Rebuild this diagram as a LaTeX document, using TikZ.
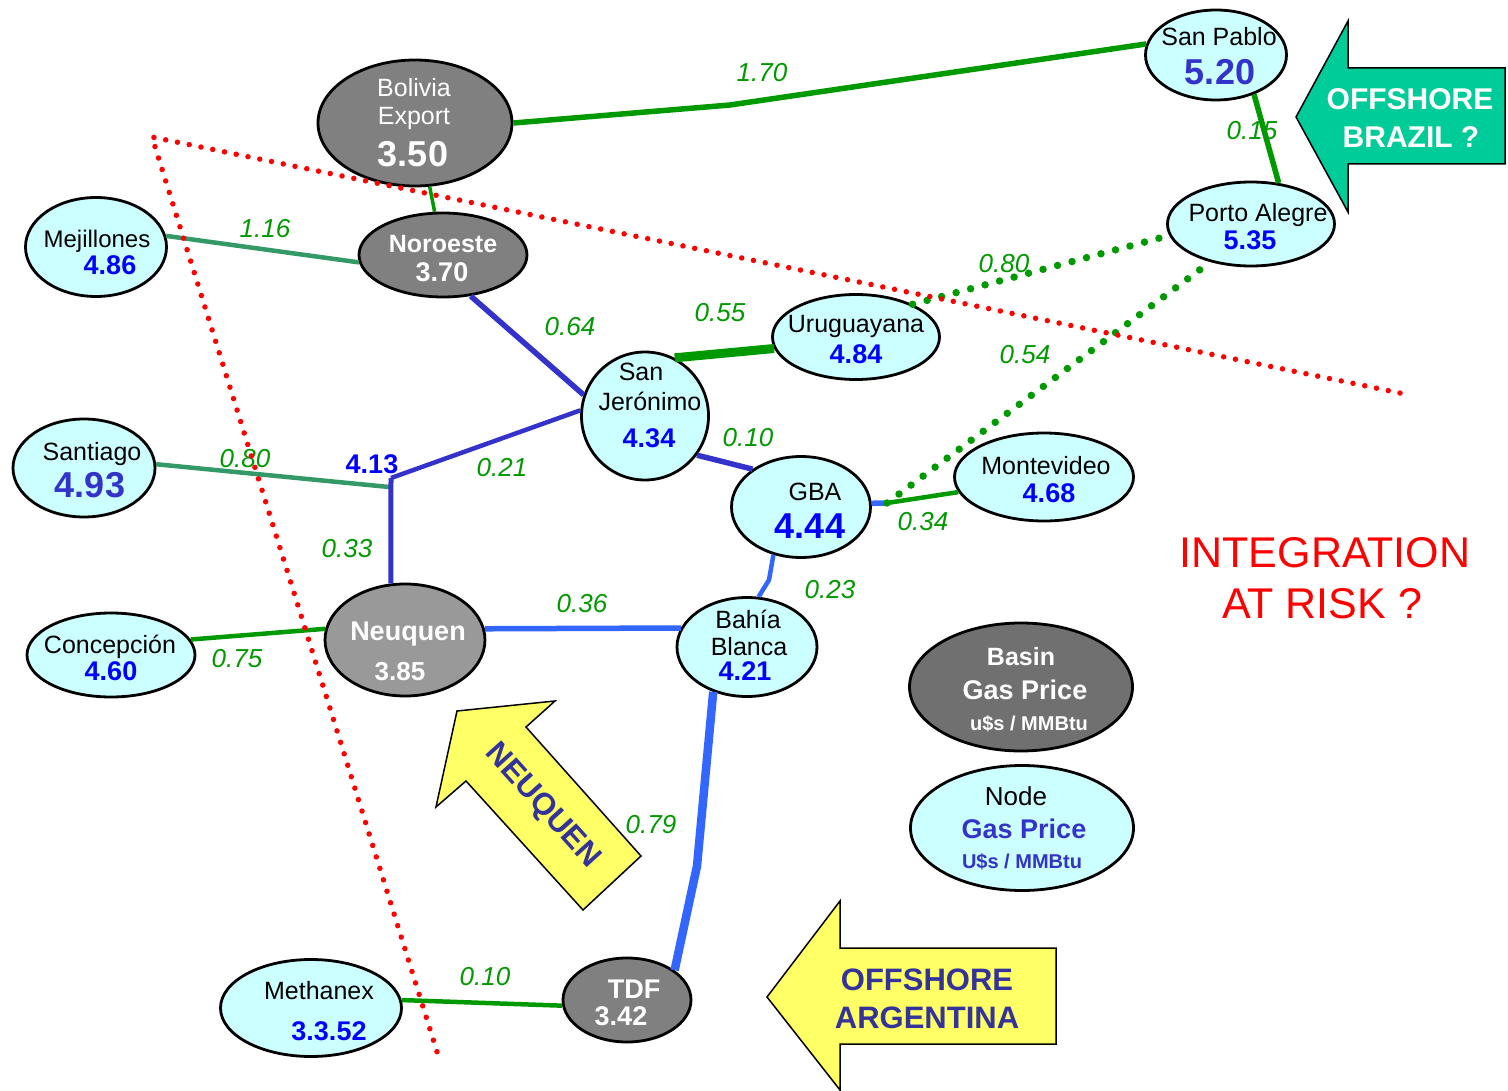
\documentclass[tikz,border=0pt]{standalone}
\usepackage{fontspec}
\setmainfont{Liberation Sans}
\usetikzlibrary{shapes.geometric}

\definecolor{nodecyan}{HTML}{CCFFFF}
\definecolor{basingray}{HTML}{808080}
\definecolor{neugray}{HTML}{999999}
\definecolor{leggray}{HTML}{707070}
\definecolor{pipegreen}{HTML}{009900}
\definecolor{pipeteal}{HTML}{339966}
\definecolor{pipeblue}{HTML}{3333CC}
\definecolor{pipelight}{HTML}{3366FF}
\definecolor{priceblue}{HTML}{0000FF}
\definecolor{navytext}{HTML}{333399}
\definecolor{brazilgreen}{HTML}{00CC99}
\definecolor{arrowyellow}{HTML}{FFFF66}

\begin{document}
\begin{tikzpicture}[x={(1pt,0pt)}, y={(0pt,-1pt)},
    cnode/.style={ellipse, draw=black, line width=2.8pt, fill=nodecyan, inner sep=0pt},
    bnode/.style={cnode, fill=basingray},
    placename/.style={anchor=base, inner sep=0pt, font=\fontsize{25}{30}\selectfont},
    price/.style={anchor=base, inner sep=0pt, text=priceblue, font=\fontsize{27}{30}\selectfont\bfseries},
    bigprice/.style={anchor=base, inner sep=0pt, text=pipeblue, font=\fontsize{36}{40}\selectfont\bfseries},
    basintext/.style={anchor=base, inner sep=0pt, text=white, font=\fontsize{26}{30}\selectfont\bfseries},
    flowlbl/.style={anchor=base, inner sep=0pt, text=pipegreen, font=\fontsize{26}{30}\selectfont\itshape},
    arrowtext/.style={anchor=base, inner sep=0pt, text=navytext, font=\fontsize{31}{34}\selectfont\bfseries},
    gline/.style={draw=pipegreen, line width=4.5pt},
    tline/.style={draw=pipeteal, line width=4.5pt},
    bline/.style={draw=pipeblue, line width=5pt},
    lbline/.style={draw=pipelight, line width=5.5pt},
    reddots/.style={draw=red, line width=5.5pt, line cap=round, dash pattern=on 0pt off 12pt},
    greendots/.style={draw=pipegreen, line width=7.5pt, line cap=round, dash pattern=on 0pt off 15pt}]
    \useasboundingbox (0,0) rectangle (1508,1091);

    % Basins (grey) and nodes (cyan)
    \node[bnode, minimum width=194, minimum height=126] (bol) at (415,123) {};
    \node[bnode, minimum width=168, minimum height=84] (nor) at (443,255) {};
    \node[bnode, fill=neugray, minimum width=160, minimum height=112] (neu) at (405,640) {};
    \node[bnode, minimum width=128, minimum height=84] (tdf) at (627,1000) {};
    \node[cnode, minimum width=141, minimum height=90] (sp) at (1216,55) {};
    \node[cnode, minimum width=167, minimum height=84] (pa) at (1251,224) {};
    \node[cnode, minimum width=141, minimum height=99] (mej) at (96,247) {};
    \node[cnode, minimum width=167, minimum height=85] (uru) at (856,337) {};
    \node[cnode, minimum width=127, minimum height=128] (sj) at (645,416) {};
    \node[cnode, minimum width=142, minimum height=98] (san) at (84,468) {};
    \node[cnode, minimum width=139, minimum height=101] (gba) at (801,507) {};
    \node[cnode, minimum width=179, minimum height=88] (mon) at (1044,477) {};
    \node[cnode, minimum width=168, minimum height=84] (con) at (111,655) {};
    \node[cnode, minimum width=140, minimum height=99] (bb) at (747,647) {};
    \node[cnode, minimum width=181, minimum height=97] (met) at (311,1008) {};

    % Legend
    \node[bnode, fill=leggray, minimum width=223, minimum height=128] (legb) at (1021,687) {};
    \node[cnode, minimum width=223, minimum height=125] (legn) at (1022,828) {};

    % Node texts
    \node[placename, text=white] (bol-a) at (414,97) {Bolivia};
    \node[placename, text=white] (bol-b) at (414,125) {Export};
    \node[bigprice, text=white] (bol-p) at (413,167) {3.50};
    \node[basintext, font=\fontsize{25}{30}\selectfont\bfseries] (nor-a) at (443,253) {Noroeste};
    \node[basintext, font=\fontsize{27}{30}\selectfont\bfseries] (nor-p) at (442,282) {3.70};
    \node[basintext, font=\fontsize{27}{30}\selectfont\bfseries] (neu-a) at (408,640) {Neuquen};
    \node[basintext] (neu-p) at (400,680) {3.85};
    \node[basintext, font=\fontsize{27}{30}\selectfont\bfseries] (tdf-a) at (634,998) {TDF};
    \node[basintext, font=\fontsize{27}{30}\selectfont\bfseries] (tdf-p) at (621,1025) {3.42};
    \node[placename] (sp-a) at (1219,46) {San Pablo};
    \node[bigprice] (sp-p) at (1220,85) {5.20};
    \node[placename] (pa-a) at (1258,222) {Porto Alegre};
    \node[price] (pa-p) at (1250,250) {5.35};
    \node[placename, font=\fontsize{24}{30}\selectfont] (mej-a) at (97,248) {Mejillones};
    \node[price] (mej-p) at (110,275) {4.86};
    \node[placename] (uru-a) at (856,333) {Uruguayana};
    \node[price] (uru-p) at (856,363) {4.84};
    \node[placename] (sj-a) at (641,381) {San};
    \node[placename] (sj-b) at (650,410) {Jerónimo};
    \node[price] (sj-p) at (649,447) {4.34};
    \node[placename] (san-a) at (92,460) {Santiago};
    \node[bigprice] (san-p) at (90,497) {4.93};
    \node[placename] (gba-a) at (815,500) {GBA};
    \node[bigprice, text=priceblue] (gba-p) at (810,538) {4.44};
    \node[placename] (mon-a) at (1046,474) {Montevideo};
    \node[price] (mon-p) at (1049,502) {4.68};
    \node[placename] (con-a) at (110,653) {Concepción};
    \node[price] (con-p) at (111,680) {4.60};
    \node[placename] (bb-a) at (748,628) {Bahía};
    \node[placename] (bb-b) at (749,655) {Blanca};
    \node[price] (bb-p) at (745,680) {4.21};
    \node[placename] (met-a) at (319,999) {Methanex};
    \node[price] (met-p) at (329,1040) {3.3.52};
    \node[price] (jn-p) at (372,473) {4.13};

    % Legend texts
    \node[basintext, font=\fontsize{25}{30}\selectfont\bfseries] (legb-a) at (1021,665) {Basin};
    \node[basintext, font=\fontsize{27}{30}\selectfont\bfseries] (legb-b) at (1025,699) {Gas Price};
    \node[basintext, font=\fontsize{20}{24}\selectfont\bfseries] (legb-c) at (1029,730) {u\$s / MMBtu};
    \node[placename, font=\fontsize{26}{30}\selectfont] (legn-a) at (1016,805) {Node};
    \node[basintext, text=pipeblue, font=\fontsize{27}{30}\selectfont\bfseries] (legn-b) at (1024,838) {Gas Price};
    \node[basintext, text=pipeblue, font=\fontsize{20}{24}\selectfont\bfseries] (legn-c) at (1022,868) {U\$s / MMBtu};

    % Flow labels
    \node[flowlbl] (f-bsp) at (762,82) {1.70};
    \node[flowlbl] (f-sppa) at (1252,140) {0.15};
    \node[flowlbl] (f-mej) at (265,238) {1.16};
    \node[flowlbl] (f-nor) at (570,336) {0.64};
    \node[flowlbl] (f-uru) at (720,322) {0.55};
    \node[flowlbl] (f-urupa) at (1004,273) {0.80};
    \node[flowlbl] (f-gbapa) at (1025,363) {0.54};
    \node[flowlbl] (f-san) at (245,467) {0.80};
    \node[flowlbl] (f-sjjn) at (502,476) {0.21};
    \node[flowlbl] (f-jn) at (347,557) {0.33};
    \node[flowlbl] (f-sjgba) at (748,446) {0.10};
    \node[flowlbl] (f-mon) at (923,530) {0.34};
    \node[flowlbl] (f-gbabb) at (830,598) {0.23};
    \node[flowlbl] (f-neubb) at (582,612) {0.36};
    \node[flowlbl] (f-con) at (237,667) {0.75};
    \node[flowlbl] (f-tdf) at (651,833) {0.79};
    \node[flowlbl] (f-met) at (485,985) {0.10};

    % Bends and junctions
    \coordinate (b1) at (730,105);
    \coordinate (jn) at (391,478);
    \coordinate (jg) at (389,487);
    \coordinate (gm) at (887,503);
    \coordinate (g1) at (769,580);
    \coordinate (t1) at (697,866);

    % Pipelines
    \draw[gline, line width=5.5pt] (bol.east) -- (b1) -- (sp.171);
    \draw[gline, line width=3.5pt] (bol.-77) -- (nor.101);
    \draw[gline, line width=5.5pt] (sp.-46) -- (pa.56);
    \draw[tline] (mej.9) -- (nor.185);
    \draw[bline, line width=5.5pt] (nor.-56) -- (sj.161);
    \draw[gline, line width=9pt] (sj.63) -- (uru.188);
    \draw[bline, line width=4.5pt] (sj.175) -- (jn);
    \draw[tline] (san.3) -- (jg);
    \draw[bline] (jn) -- (neu.104);
    \draw[bline, line width=5.5pt] (sj.-37) -- (gba.142);
    \draw[lbline] (gba.3) -- (gm);
    \draw[gline] (gm) -- (mon.190);
    \draw[lbline, line width=4.5pt] (gba.-120) -- (g1) -- (bb.77);
    \draw[lbline] (neu.8) -- (bb.164);
    \draw[gline] (con.11) -- (neu.172);
    \draw[lbline, line width=8.5pt] (bb.-127) -- (t1) -- (tdf.32);
    \draw[gline] (met.5) -- (tdf.185);

    % Projects (dotted)
    \draw[greendots] (uru.30) -- (pa.188);
    \draw[greendots] (gm) -- (pa.223);

    % Integration limit
    \coordinate (rd0) at (152,137);
    \coordinate (rd1) at (1400,393);
    \coordinate (rd2) at (438,1055);
    \draw[reddots] (rd1) -- (rd0) -- (rd2);

    % Offshore Brazil arrow
    \draw[fill=brazilgreen, line width=1.5pt] (1296,117) -- (1348,21) -- (1348,68) -- (1505,68)
        -- (1505,164) -- (1348,164) -- (1348,212) -- cycle;
    \node[arrowtext, text=white, font=\fontsize{30}{34}\selectfont\bfseries] (br-a) at (1410,110) {OFFSHORE};
    \node[arrowtext, text=white, font=\fontsize{30}{34}\selectfont\bfseries] (br-b) at (1411,148) {BRAZIL ?};

    % Neuquen arrow
    \draw[fill=arrowyellow, line width=1.5pt] (457,711) -- (555,701) -- (526,727) -- (641,856)
        -- (583,910) -- (466,781) -- (436,807) -- cycle;
    \node[arrowtext, anchor=center, rotate=-48, font=\fontsize{31}{34}\selectfont\bfseries] (neu-arrow) at (542,806) {NEUQUEN};

    % Offshore Argentina arrow
    \draw[fill=arrowyellow, line width=1.5pt] (767,997) -- (840,901) -- (840,948) -- (1056,948)
        -- (1056,1044) -- (840,1044) -- (840,1090) -- cycle;
    \node[arrowtext] (ar-a) at (927,990) {OFFSHORE};
    \node[arrowtext] (ar-b) at (927,1028) {ARGENTINA};

    % Warning
    \node[anchor=base, inner sep=0pt, text=red, font=\fontsize{43}{48}\selectfont] (risk-a) at (1325,567) {INTEGRATION};
    \node[anchor=base, inner sep=0pt, text=red, font=\fontsize{43}{48}\selectfont] (risk-b) at (1322,618) {AT RISK ?};
\end{tikzpicture}
\end{document}
